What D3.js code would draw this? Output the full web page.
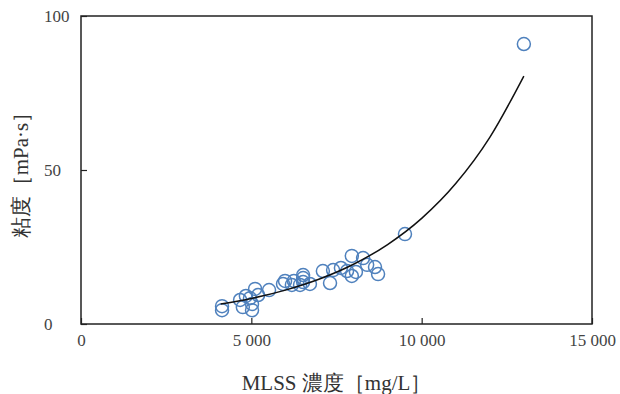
<!DOCTYPE html>
<html>
<head>
<meta charset="utf-8">
<script src="https://cdn.jsdelivr.net/npm/d3@7"></script>
<style>
  body { margin: 0; background: #fff; }
</style>
</head>
<body>
<svg id="chart" width="620" height="394"></svg>
<script>
// MLSS concentration [mg/L] vs viscosity [mPa·s]
const mlss = [4140, 4140, 4670, 4750, 4840, 4960, 5020, 5020, 5110, 5200,
  5520, 5930, 5990, 6190, 6250, 6520, 6520, 6520, 6720, 6430,
  7100, 7400, 7310, 7810, 7950, 7950, 8070, 8280, 8400, 8630,
  8720, 7630, 9510, 13000];
const viscosity = [5.8, 4.5, 7.8, 5.5, 9.1, 8.4, 4.5, 6.5, 11.4, 9.4,
  11.0, 13.0, 14.0, 12.7, 14.0, 15.9, 14.9, 13.6, 13.0, 12.7,
  17.2, 17.5, 13.3, 17.2, 22.1, 15.6, 16.9, 21.4, 19.2, 18.5,
  16.2, 18.2, 29.2, 90.9];

// trend curve
const trendX = [4100, 5000, 6000, 7000, 8000, 9000, 10000, 11000, 12000, 13000];
const trendY = [6.5, 8.3, 11.0, 14.6, 19.4, 25.8, 34.3, 45.6, 60.6, 80.5];

const xTicks = [0, 5000, 10000, 15000];
const yTicks = [0, 50, 100];

const serif = '"Liberation Serif", "DejaVu Serif", serif';

const margin = {top: 16, right: 28, bottom: 70, left: 81};
const width = 620 - margin.left - margin.right,
      height = 394 - margin.top - margin.bottom;

const svg = d3.select("#chart")
  .append("g")
    .attr("transform", "translate(" + margin.left + "," + margin.top + ")");

const x = d3.scaleLinear().domain([0, 15000]).range([0, width]);
const y = d3.scaleLinear().domain([0, 100]).range([height, 0]);

const fmt = d => d3.format(",")(d).replace(",", " ");

// frame
svg.append("rect")
  .attr("width", width).attr("height", height)
  .attr("fill", "none").attr("stroke", "#222").attr("stroke-width", 1.5);

// X axis (ticks inward)
const xAxis = svg.append("g")
  .attr("transform", "translate(0," + height + ")")
  .call(d3.axisBottom(x).tickValues(xTicks).tickSizeInner(-6).tickSizeOuter(0).tickPadding(10).tickFormat(fmt));
xAxis.select(".domain").remove();
xAxis.selectAll("line").attr("stroke", "#222").attr("stroke-width", 1.2);
xAxis.selectAll("text")
  .attr("font-family", null).attr("font-size", null)
  .style("font-family", serif).style("font-size", "17px").style("fill", "#444");
xAxis.attr("font-family", null).attr("font-size", null);

// Y axis (ticks inward), labels start at a common left edge
const yAxis = svg.append("g")
  .call(d3.axisLeft(y).tickValues(yTicks).tickSizeInner(-6).tickSizeOuter(0));
yAxis.attr("font-family", null).attr("font-size", null);
yAxis.select(".domain").remove();
yAxis.selectAll("line").attr("stroke", "#222").attr("stroke-width", 1.2);
yAxis.selectAll("text")
  .style("font-family", serif).style("font-size", "17px").style("fill", "#444")
  .attr("text-anchor", "start").attr("x", -37);

// points
svg.append("g")
  .selectAll("circle")
  .data(mlss.map((d, i) => [d, viscosity[i]]))
  .join("circle")
    .attr("cx", d => x(d[0]))
    .attr("cy", d => y(d[1]))
    .attr("r", 6.5)
    .attr("fill", "none")
    .attr("stroke", "#4f81bd")
    .attr("stroke-width", 1.5);

// trend curve
const line = d3.line()
  .x(d => x(d[0]))
  .y(d => y(d[1]))
  .curve(d3.curveMonotoneX);
svg.append("path")
  .datum(trendX.map((d, i) => [d, trendY[i]]))
  .attr("fill", "none")
  .attr("stroke", "#111")
  .attr("stroke-width", 1.5)
  .attr("d", line);

// axis titles
svg.append("text")
  .attr("x", width / 2)
  .attr("y", height + 66)
  .attr("text-anchor", "middle")
  .style("font-family", serif).style("font-size", "21px").style("fill", "#333")
  .text("MLSS 濃度［mg/L］");

svg.append("text")
  .attr("transform", "translate(" + (-53) + "," + (height / 2) + ") rotate(-90)")
  .attr("text-anchor", "middle")
  .style("font-family", serif).style("font-size", "21px").style("fill", "#333")
  .text("粘度［mPa·s］");
</script>
</body>
</html>
